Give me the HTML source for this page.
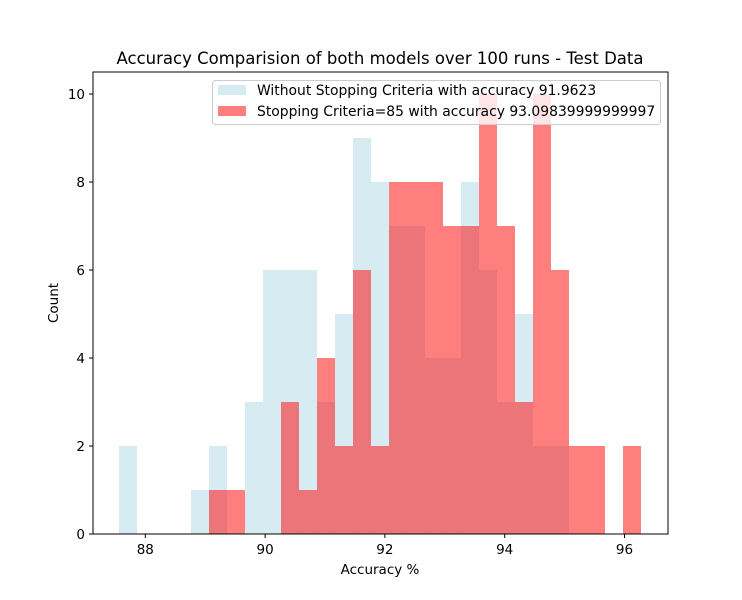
<!DOCTYPE html>
<html><head><meta charset="utf-8"><style>
body{margin:0;background:#fff}
svg{display:block;font-family:"DejaVu Sans","Liberation Sans",sans-serif}
</style></head><body>
<svg id="chart" width="742" height="600" xmlns="http://www.w3.org/2000/svg">
<rect x="0" y="0" width="742" height="600" fill="#fff"/>
<text x="380" y="64" font-size="16.5" text-anchor="middle">Accuracy Comparision of both models over 100 runs - Test Data</text>
<g id="bars"></g>
<rect x="93" y="72" width="575" height="462" fill="none" stroke="#000" stroke-width="1"/>
<g id="ticks"></g>
<text x="380" y="574" font-size="13.5" text-anchor="middle">Accuracy %</text>
<text transform="translate(58,303) rotate(-90)" font-size="13.5" text-anchor="middle">Count</text>
<g>
<rect x="212.5" y="80.5" width="448" height="44" rx="3" fill="#fff" fill-opacity="0.8" stroke="#ccc"/>
<rect x="218" y="85" width="28" height="10" fill="#add8e6" fill-opacity="0.5"/>
<text x="257" y="95" font-size="13.9">Without Stopping Criteria with accuracy 91.9623</text>
<rect x="218" y="106" width="28" height="10" fill="#ff0000" fill-opacity="0.5"/>
<text x="257" y="116" font-size="13.9">Stopping Criteria=85 with accuracy 93.09839999999997</text>
</g>
</svg>
<script>
const binStart = 87.561;
const binWidth = 0.3005;
const blueCounts = [2,0,0,0,1,2,0,3,6,6,6,3,5,9,8,7,7,4,4,8,6,3,5,2,2,0,0,0,0];
const redCounts  = [0,0,0,0,0,1,1,0,0,3,1,4,2,6,2,8,8,8,7,7,10,7,3,10,6,2,2,0,2];
const xTicks = [88,90,92,94,96];
const yTicks = [0,2,4,6,8,10];
const NS="http://www.w3.org/2000/svg";
function x(v){return 145.3+(v-88)*59.9;}
function y(c){return 534-c*44;}
const bars=document.getElementById('bars');
function drawSeries(counts,color,name){
  counts.forEach((c,i)=>{
    if(!c) return;
    const r=document.createElementNS(NS,'rect');
    const x0=x(binStart+i*binWidth), x1=x(binStart+(i+1)*binWidth);
    r.setAttribute('x',x0);r.setAttribute('width',x1-x0);
    r.setAttribute('y',y(c));r.setAttribute('height',y(0)-y(c));
    r.setAttribute('fill',color);r.setAttribute('fill-opacity','0.5');
    
    
    bars.appendChild(r);
  });
}
drawSeries(blueCounts,'#add8e6','without-stopping');
drawSeries(redCounts,'#ff0000','stopping');
const tg=document.getElementById('ticks');
xTicks.forEach(v=>{
  const l=document.createElementNS(NS,'line');
  l.setAttribute('x1',x(v));l.setAttribute('x2',x(v));l.setAttribute('y1',534);l.setAttribute('y2',538);l.setAttribute('stroke','#000');
  
  
  tg.appendChild(l);
  const t=document.createElementNS(NS,'text');
  t.setAttribute('x',x(v));t.setAttribute('y',554);t.setAttribute('font-size','13.5');t.setAttribute('text-anchor','middle');
  t.textContent=v;
  
  
  tg.appendChild(t);
});
yTicks.forEach(v=>{
  const l=document.createElementNS(NS,'line');
  l.setAttribute('x1',89);l.setAttribute('x2',93);l.setAttribute('y1',y(v));l.setAttribute('y2',y(v));l.setAttribute('stroke','#000');
  
  
  tg.appendChild(l);
  const t=document.createElementNS(NS,'text');
  t.setAttribute('x',85);t.setAttribute('y',y(v)+5);t.setAttribute('font-size','13.5');t.setAttribute('text-anchor','end');
  t.textContent=v;
  
  
  tg.appendChild(t);
});
</script>
</body></html>
